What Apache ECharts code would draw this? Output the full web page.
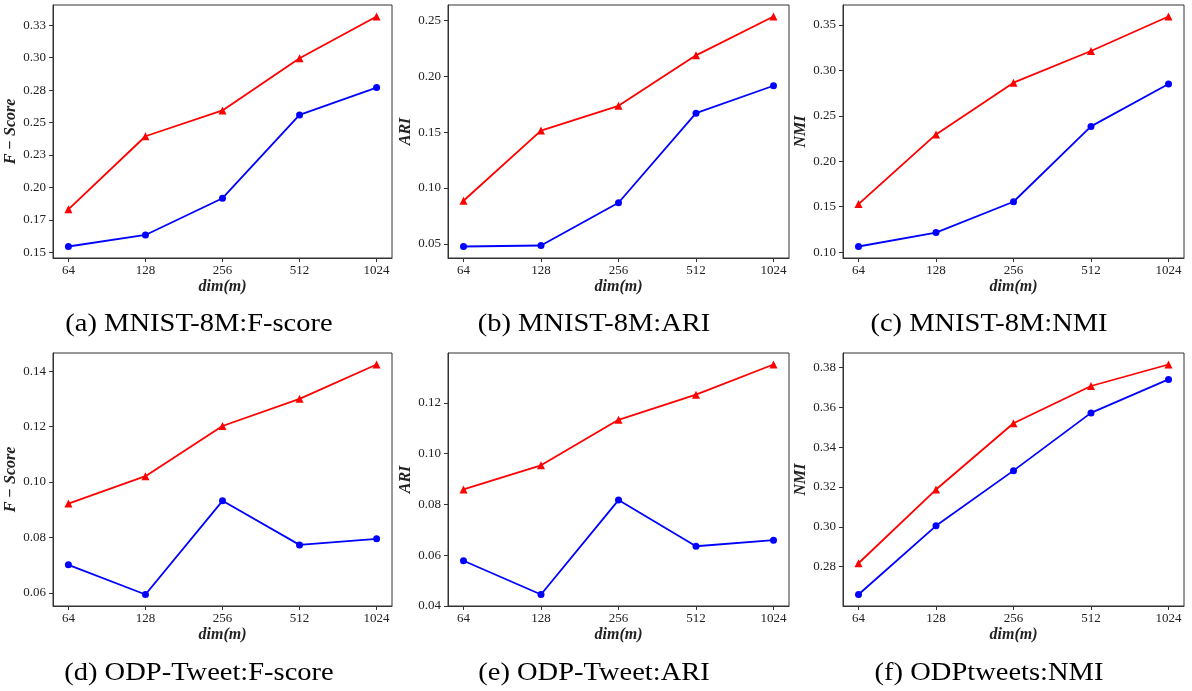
<!DOCTYPE html>
<html>
<head>
<meta charset="utf-8">
<title>dim(m) sweep</title>
<script src="https://cdn.jsdelivr.net/npm/echarts@6/dist/echarts.min.js"></script>
<style>
  html, body { margin: 0; padding: 0; background: #ffffff; }
  #chart { width: 1192px; height: 691px; }
</style>
</head>
<body>
<div id="chart"></div>
<script>
// Embedding dimension m on the x axis
const dims = ['64', '128', '256', '512', '1024'];

// MNIST-8M
const mnistFscoreTri = [0.1832, 0.2395, 0.2594, 0.2995, 0.3317];
const mnistFscoreDot = [0.1546, 0.1635, 0.1918, 0.2559, 0.2770];
const mnistAriTri    = [0.0886, 0.1514, 0.1736, 0.2188, 0.2536];
const mnistAriDot    = [0.0476, 0.0485, 0.0868, 0.1670, 0.1916];
const mnistNmiTri    = [0.1529, 0.2295, 0.2864, 0.3212, 0.3591];
const mnistNmiDot    = [0.1063, 0.1216, 0.1555, 0.2383, 0.2850];

// ODP-Tweet
const odpFscoreTri = [0.0922, 0.1021, 0.1202, 0.1300, 0.1424];
const odpFscoreDot = [0.0701, 0.0594, 0.0932, 0.0773, 0.0795];
const odpAriTri    = [0.0859, 0.0954, 0.1133, 0.1232, 0.1351];
const odpAriDot    = [0.0578, 0.0445, 0.0817, 0.0635, 0.0659];
const odpNmiTri    = [0.2817, 0.3187, 0.3520, 0.3707, 0.3815];
const odpNmiDot    = [0.2660, 0.3005, 0.3282, 0.3572, 0.3740];

// y tick positions and their printed labels per panel
const ticksA = [0.15, 0.175, 0.20, 0.225, 0.25, 0.275, 0.30, 0.325];
const labelsA = ['0.15', '0.17', '0.20', '0.23', '0.25', '0.28', '0.30', '0.33'];
const ticksB = [0.05, 0.10, 0.15, 0.20, 0.25];
const labelsB = ['0.05', '0.10', '0.15', '0.20', '0.25'];
const ticksC = [0.10, 0.15, 0.20, 0.25, 0.30, 0.35];
const labelsC = ['0.10', '0.15', '0.20', '0.25', '0.30', '0.35'];
const ticksD = [0.06, 0.08, 0.10, 0.12, 0.14];
const labelsD = ['0.06', '0.08', '0.10', '0.12', '0.14'];
const ticksE = [0.04, 0.06, 0.08, 0.10, 0.12];
const labelsE = ['0.04', '0.06', '0.08', '0.10', '0.12'];
const ticksF = [0.28, 0.30, 0.32, 0.34, 0.36, 0.38];
const labelsF = ['0.28', '0.30', '0.32', '0.34', '0.36', '0.38'];

// Sub-figure captions and axis titles
const captions = [
  '(a) MNIST-8M:F-score', '(b) MNIST-8M:ARI', '(c) MNIST-8M:NMI',
  '(d) ODP-Tweet:F-score', '(e) ODP-Tweet:ARI', '(f) ODPtweets:NMI'
];
const yNames = ['F − Score', 'ARI', 'NMI', 'F − Score', 'ARI', 'NMI'];
const xName = 'dim(m)';

const panels = [
  { tri: mnistFscoreTri, dot: mnistFscoreDot, ticks: ticksA, labels: labelsA },
  { tri: mnistAriTri,    dot: mnistAriDot,    ticks: ticksB, labels: labelsB },
  { tri: mnistNmiTri,    dot: mnistNmiDot,    ticks: ticksC, labels: labelsC },
  { tri: odpFscoreTri,   dot: odpFscoreDot,   ticks: ticksD, labels: labelsD },
  { tri: odpAriTri,      dot: odpAriDot,      ticks: ticksE, labels: labelsE },
  { tri: odpNmiTri,      dot: odpNmiDot,      ticks: ticksF, labels: labelsF }
];

// Layout of the 2x3 panel grid (pixels)
const colLeft = [53, 448, 843];
const colWidth = [339, 341, 341];
const rowTop = [5, 353];
const plotHeight = 253;
const captionCenterX = [199, 594, 989];
const captionCenterY = [324, 673];

const serif = '"Liberation Serif", "DejaVu Serif", serif';
const axisColor = '#333333';
const textColor = '#222222';

const grids = [], xAxes = [], yAxes = [], series = [], captionTexts = [];

panels.forEach((p, i) => {
  const col = i % 3, row = Math.floor(i / 3);
  grids.push({
    left: colLeft[col], top: rowTop[row], width: colWidth[col], height: plotHeight,
    show: true, borderColor: axisColor, borderWidth: 1, backgroundColor: 'transparent'
  });

  // 5% padding around the data, like the default plot margins
  const all = p.tri.concat(p.dot);
  const lo = Math.min(...all), hi = Math.max(...all);
  const pad = (hi - lo) * 0.05;

  xAxes.push({
    type: 'value', gridIndex: i, min: -0.2, max: 4.2,
    name: xName, nameLocation: 'middle', nameGap: 21,
    nameTextStyle: { fontFamily: serif, fontSize: 16, fontWeight: 'bold', fontStyle: 'italic', color: textColor },
    axisLine: { show: true, onZero: false, lineStyle: { color: axisColor, width: 1 } },
    axisTick: { show: true, length: 4, lineStyle: { color: axisColor }, customValues: [0, 1, 2, 3, 4] },
    axisLabel: {
      customValues: [0, 1, 2, 3, 4], margin: 6,
      fontFamily: serif, fontSize: 13, color: textColor,
      formatter: v => dims[Math.round(v)]
    },
    splitLine: { show: false }
  });

  yAxes.push({
    type: 'value', gridIndex: i, min: lo - pad, max: hi + pad,
    name: yNames[i], nameLocation: 'middle', nameGap: 31, nameRotate: 90,
    nameTextStyle: { fontFamily: serif, fontSize: 16, fontWeight: 'bold', fontStyle: 'italic', color: textColor },
    axisLine: { show: true, onZero: false, lineStyle: { color: axisColor, width: 1 } },
    axisTick: { show: true, length: 4, lineStyle: { color: axisColor }, customValues: p.ticks },
    axisLabel: {
      customValues: p.ticks, margin: 7,
      fontFamily: serif, fontSize: 13, color: textColor,
      formatter: v => {
        let k = 0, best = Infinity;
        p.ticks.forEach((t, j) => { const d = Math.abs(t - v); if (d < best) { best = d; k = j; } });
        return p.labels[k];
      }
    },
    splitLine: { show: false }
  });

  series.push({
    type: 'line', xAxisIndex: i, yAxisIndex: i,
    data: p.dot.map((v, j) => [j, v]),
    color: '#0000ff', lineStyle: { width: 1.8, color: '#0000ff' },
    symbol: 'circle', symbolSize: 7, itemStyle: { color: '#0000ff' }
  });
  series.push({
    type: 'line', xAxisIndex: i, yAxisIndex: i,
    data: p.tri.map((v, j) => [j, v]),
    color: '#ff0000', lineStyle: { width: 1.8, color: '#ff0000' },
    symbol: 'triangle', symbolSize: 8, itemStyle: { color: '#ff0000' }
  });

  captionTexts.push({
    type: 'text',
    x: captionCenterX[col], y: captionCenterY[row],
    scaleX: 1.14,
    style: {
      text: captions[i], fontFamily: serif, fontSize: 25, fill: '#000000',
      textAlign: 'center', textVerticalAlign: 'middle'
    }
  });
});

const chart = echarts.init(document.getElementById('chart'), null, { renderer: 'canvas' });
chart.setOption({
  animation: false,
  backgroundColor: '#ffffff',
  graphic: captionTexts,
  grid: grids,
  xAxis: xAxes,
  yAxis: yAxes,
  series: series
});
</script>
</body>
</html>
